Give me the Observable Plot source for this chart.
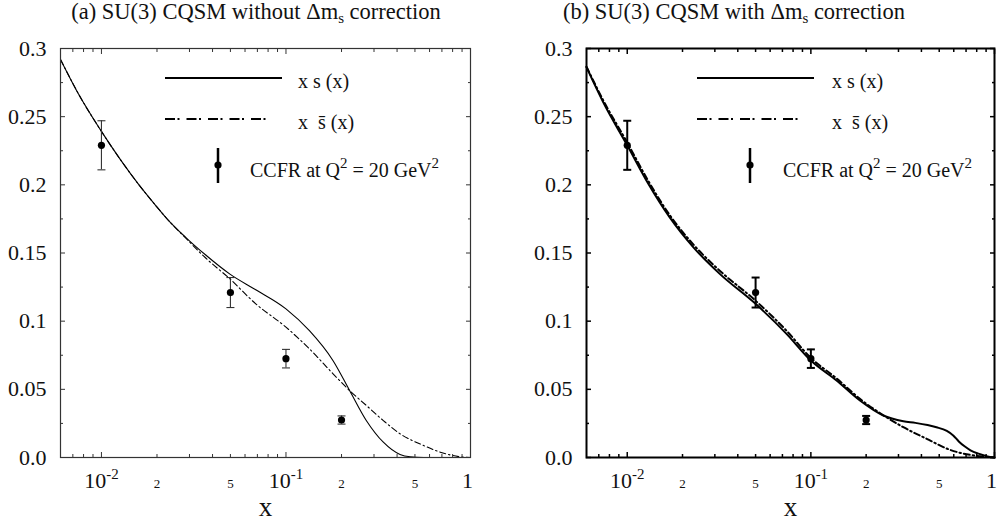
<!DOCTYPE html>
<html><head><meta charset="utf-8">
<script src="https://cdn.jsdelivr.net/npm/d3@7"></script>
<script src="https://cdn.jsdelivr.net/npm/@observablehq/plot@0.6"></script>
<style>
html,body{margin:0;padding:0;background:#fff;}
#wrap{position:relative;width:998px;height:522px;overflow:hidden;font-family:"Liberation Serif","Times New Roman",Times,Tinos,"Nimbus Roman","Noto Serif","DejaVu Serif",serif;color:#111;}
.title{position:absolute;top:1px;width:500px;text-align:center;font-size:22.5px;line-height:1;white-space:nowrap;}
.title .sub{font-size:15px;position:relative;top:4px;}
#wrap svg{position:absolute;top:28px;overflow:visible;}
</style></head>
<body><div id="wrap">
<div class="title" style="left:6px">(a) SU(3) CQSM without &Delta;m<span class="sub">s</span> correction</div>
<div class="title" style="left:484px">(b) SU(3) CQSM with &Delta;m<span class="sub">s</span> correction</div>
</div>
<script>
// ---------------- data ----------------
const ccfrX   = [0.01, 0.05, 0.1, 0.2];
const ccfrY   = [0.229, 0.121, 0.0725, 0.0275];
const ccfrErr = [0.018, 0.011, 0.0068, 0.003];

// panel (a): without Δm_s correction
const aSX  = [0.006, 0.0075, 0.01, 0.0127, 0.0159, 0.0195, 0.0226, 0.0285, 0.0366, 0.0497, 0.0686, 0.1, 0.134, 0.18, 0.2216, 0.273, 0.337, 0.415, 0.471, 0.557, 1.0];
const aSY  = [0.292, 0.2668, 0.2392, 0.2183, 0.2003, 0.1855, 0.1753, 0.1617, 0.1487, 0.1345, 0.123, 0.109, 0.093, 0.071, 0.049, 0.027, 0.0112, 0.0022, 0.0005, 0, 0];
const aSbX = [0.006, 0.0075, 0.01, 0.0127, 0.0159, 0.0195, 0.0226, 0.0285, 0.0366, 0.0497, 0.0686, 0.1, 0.134, 0.18, 0.2216, 0.273, 0.337, 0.415, 0.557, 0.686, 0.883, 1.0];
const aSbY = [0.292, 0.2668, 0.2392, 0.2183, 0.2003, 0.1855, 0.1753, 0.1612, 0.1465, 0.131, 0.1127, 0.0956, 0.0797, 0.0614, 0.049, 0.0381, 0.0271, 0.0174, 0.0088, 0.0039, 0.0005, 0];

// panel (b): with Δm_s correction
const bSX  = [0.006, 0.0075, 0.01, 0.013, 0.017, 0.023, 0.0319, 0.05, 0.0737, 0.1, 0.138, 0.185, 0.248, 0.319, 0.371, 0.432, 0.483, 0.55, 0.598, 0.639, 0.687, 0.74, 0.818, 0.905, 1.0];
const bSY  = [0.2863, 0.259, 0.229, 0.201, 0.1763, 0.154, 0.1347, 0.1127, 0.0907, 0.0711, 0.0565, 0.0418, 0.0308, 0.0266, 0.0254, 0.0238, 0.0222, 0.0195, 0.016, 0.0118, 0.0082, 0.0053, 0.0028, 0.001, 0];
const bSbX = [0.006, 0.0075, 0.01, 0.013, 0.017, 0.023, 0.0319, 0.05, 0.0737, 0.1, 0.138, 0.185, 0.248, 0.319, 0.4275, 0.573, 0.8, 1.0];
const bSbY = [0.2866, 0.2605, 0.231, 0.203, 0.178, 0.156, 0.137, 0.115, 0.093, 0.073, 0.058, 0.043, 0.031, 0.0222, 0.0137, 0.0056, 0.0012, 0];

// ticks
const xMajorTicks  = [0.01, 0.1, 1];
const xMajorLabels = ["10^-2", "10^-1", "1"];
const xMidTicks    = [0.02, 0.05, 0.2, 0.5];
const xMidLabels   = ["2", "5", "2", "5"];
const xMinorTicks  = [0.007, 0.008, 0.009, 0.02, 0.03, 0.04, 0.05, 0.06, 0.07, 0.08, 0.09, 0.2, 0.3, 0.4, 0.5, 0.6, 0.7, 0.8, 0.9];
const yMajorTicks  = [0, 0.05, 0.1, 0.15, 0.2, 0.25, 0.3];
const yTickLabels  = ["0.0", "0.05", "0.1", "0.15", "0.2", "0.25", "0.3"];
const yMinorTicks  = [0.025, 0.075, 0.125, 0.175, 0.225, 0.275];
const axisTitle    = ["x"];
const legendLabels = ["x s (x)", "x\u00a0 s\u0304 (x)", "CCFR at Q^2 = 20 GeV^2"];

// ---------------- drawing ----------------
const FONT = '"Liberation Serif", "Times New Roman", Times, Tinos, "Nimbus Roman", "Noto Serif", "DejaVu Serif", serif';
const capSymbol = {draw(ctx, size) { const r = Math.sqrt(size / Math.PI); ctx.moveTo(-r, 0); ctx.lineTo(r, 0); }};
const SVGNS = "http://www.w3.org/2000/svg";

function supify(el, size, rise) {
  const s = el.textContent;
  if (!s.includes("^")) return;
  const parts = s.split(/\^(\S+)/);
  el.textContent = "";
  let raised = false;
  parts.forEach((p, i) => {
    if (!p) return;
    const ts = document.createElementNS(SVGNS, "tspan");
    ts.textContent = p;
    if (i % 2) { ts.setAttribute("font-size", size); ts.setAttribute("dy", -rise); raised = true; }
    else if (raised) { ts.setAttribute("dy", rise); raised = false; }
    el.appendChild(ts);
  });
}

function panel(cfg) {
  const pts = ccfrX.map((x, i) => ({x, y: ccfrY[i], lo: ccfrY[i] - ccfrErr[i], hi: ccfrY[i] + ccfrErr[i]}));
  const s  = cfg.sX.map((x, i) => ({x, y: cfg.sY[i]}));
  const sb = cfg.sbX.map((x, i) => ({x, y: cfg.sbY[i]}));
  const tk = {label: null, fill: "none", stroke: cfg.frameColor, strokeWidth: cfg.tickW};
  const xMaj = xMajorTicks.map((v, i) => ({v, t: xMajorLabels[i]}));
  const xMid = xMidTicks.map((v, i) => ({v, t: xMidLabels[i]}));
  const yMaj = yMajorTicks.map((v, i) => ({v, t: yTickLabels[i]}));
  const svg = Plot.plot({
    width: 499, height: 494,
    marginLeft: cfg.ml, marginRight: cfg.mr, marginTop: 20, marginBottom: 65,
    x: {type: "log", domain: [0.006, 1]},
    y: {domain: [0, 0.3]},
    style: {fontFamily: FONT, fontSize: "22px", color: "#111", background: "transparent", overflow: "visible"},
    marks: [
      Plot.line(s,  {x: "x", y: "y", stroke: "black", strokeWidth: cfg.curveW, curve: "monotone-x"}),
      Plot.line(sb, {x: "x", y: "y", stroke: "black", strokeWidth: cfg.curveW, curve: "monotone-x", strokeDasharray: cfg.dash}),
      Plot.ruleX(pts, {x: "x", y1: "lo", y2: "hi", stroke: cfg.errColor, strokeWidth: cfg.errW}),
      Plot.dot(pts, {x: "x", y: "hi", symbol: capSymbol, r: 4, fill: "none", stroke: cfg.errColor, strokeWidth: cfg.errW}),
      Plot.dot(pts, {x: "x", y: "lo", symbol: capSymbol, r: 4, fill: "none", stroke: cfg.errColor, strokeWidth: cfg.errW}),
      Plot.dot(pts, {x: "x", y: "y", r: 3.6, fill: "black", stroke: "none"}),
      // inward ticks on all four sides
      Plot.axisX(xMajorTicks, {...tk, anchor: "bottom", tickSize: -5}),
      Plot.axisX(xMajorTicks, {...tk, anchor: "top", tickSize: -5}),
      Plot.axisX(xMinorTicks, {...tk, anchor: "bottom", tickSize: -3}),
      Plot.axisX(xMinorTicks, {...tk, anchor: "top", tickSize: -3}),
      Plot.axisY(yMajorTicks, {...tk, anchor: "left", tickSize: -5}),
      Plot.axisY(yMajorTicks, {...tk, anchor: "right", tickSize: -5}),
      Plot.axisY(yMinorTicks, {...tk, anchor: "left", tickSize: -3}),
      Plot.axisY(yMinorTicks, {...tk, anchor: "right", tickSize: -3}),
      // tick labels
      Plot.text(xMaj, {x: "v", text: "t", frameAnchor: "bottom", lineAnchor: "bottom", dy: 30, fontSize: 22}),
      Plot.text(xMid, {x: "v", text: "t", frameAnchor: "bottom", lineAnchor: "bottom", dy: 30, fontSize: 13}),
      Plot.text(yMaj, {y: "v", text: "t", frameAnchor: "left", textAnchor: "end", lineAnchor: "middle", dx: -14, fontSize: 22}),
      Plot.text(axisTitle, {text: d => d, frameAnchor: "bottom", lineAnchor: "bottom", dy: 58, fontSize: 27}),
      Plot.frame({stroke: cfg.frameColor, strokeWidth: cfg.frameW})
    ]
  });
  svg.style.left = cfg.left + "px";

  // legend
  const L = cfg.leg, fl = cfg.ml;
  const g = d3.select(svg).append("g").attr("font-family", FONT).attr("font-size", 20)
    .attr("fill", "#111").attr("text-anchor", "start");
  g.append("line").attr("x1", fl + L.l0).attr("x2", fl + L.l1).attr("y1", 50).attr("y2", 50)
    .attr("stroke", "black").attr("stroke-width", 2);
  g.append("text").attr("x", fl + L.tx).attr("y", 60).text(legendLabels[0]);
  g.append("line").attr("x1", fl + L.l0).attr("x2", fl + L.d1).attr("y1", 91).attr("y2", 91)
    .attr("stroke", "black").attr("stroke-width", 2).attr("stroke-dasharray", "10,2.5,2,7");
  g.append("text").attr("x", fl + L.tx).attr("y", 101).text(legendLabels[1]);
  g.append("line").attr("x1", fl + L.ex).attr("x2", fl + L.ex).attr("y1", 120).attr("y2", 155)
    .attr("stroke", "black").attr("stroke-width", 2.5);
  g.append("circle").attr("cx", fl + L.ex).attr("cy", 137).attr("r", 3.6).attr("fill", "black");
  g.append("text").attr("x", fl + L.cx).attr("y", 149).text(legendLabels[2]);

  d3.select(svg).selectAll("text").each(function() {
    const t = this.textContent;
    if (t === "1") this.setAttribute("dx", -3);
    const fs = parseFloat(getComputedStyle(this).fontSize) || 22;
    supify(this, fs * 0.68, fs * 0.4);
  });
  document.getElementById("wrap").appendChild(svg);
}

panel({left: 0, ml: 60, mr: 29, sX: aSX, sY: aSY, sbX: aSbX, sbY: aSbY,
  curveW: 1.1, frameW: 1.2, frameColor: "#333", tickW: 1, errW: 1.1, errColor: "#333", dash: "6,3,1.5,3",
  leg: {l0: 105, l1: 222, d1: 212, tx: 238, ex: 158, cx: 190}});
panel({left: 499, ml: 87, mr: 4, sX: bSX, sY: bSY, sbX: bSbX, sbY: bSbY,
  curveW: 2, frameW: 2, frameColor: "black", tickW: 1.5, errW: 2, errColor: "black", dash: "6,3,1.5,3",
  leg: {l0: 111, l1: 228, d1: 218, tx: 246, ex: 164, cx: 197}});
</script>
</body></html>
